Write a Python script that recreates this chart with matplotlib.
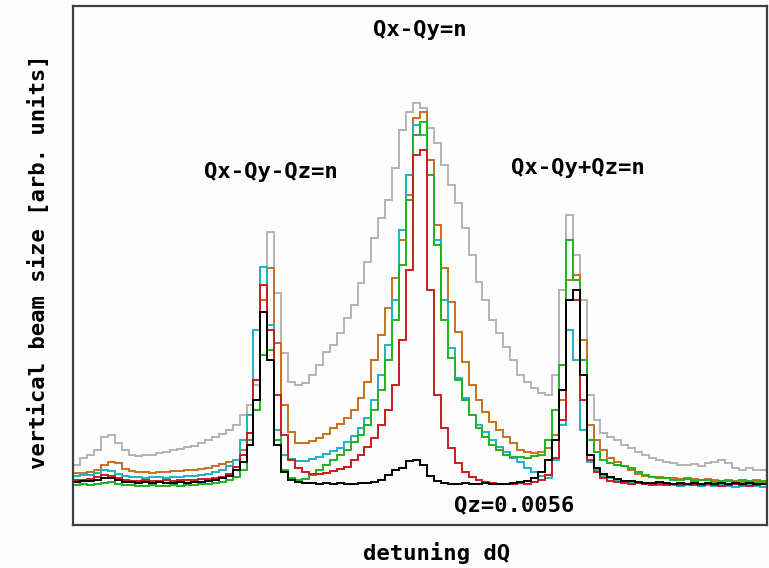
import numpy as np
import matplotlib
matplotlib.use("Agg")
import matplotlib.pyplot as plt

# detuning bins (arbitrary units), 100 bins across the scan
n_bins = 100
edges = np.arange(n_bins + 1)

# vertical beam size per bin [arb. units]
gray = [60, 67, 70, 75, 88, 90, 82, 75, 70, 69,
        70, 70, 72, 73, 75, 76, 78, 79, 82, 85,
        88, 91, 95, 100, 110, 120, 140, 225, 293, 232,
        172, 143, 140, 142, 150, 160, 173, 180, 192, 207,
        220, 242, 263, 287, 307, 325, 357, 395, 413, 422,
        417, 397, 382, 360, 340, 322, 297, 270, 243, 225,
        205, 192, 178, 165, 150, 143, 137, 132, 130, 150,
        235, 310, 270, 225, 130, 105, 92, 88, 85, 80,
        77, 73, 70, 67, 65, 63, 62, 60, 60, 61,
        59, 62, 63, 65, 62, 57, 55, 57, 55, 55]

orange = [52, 52, 53, 55, 60, 63, 62, 56, 54, 53,
          53, 52, 53, 53, 54, 54, 55, 55, 56, 57,
          59, 61, 63, 65, 75, 92, 125, 225, 257, 182,
          120, 93, 82, 82, 84, 87, 91, 97, 101, 107,
          115, 127, 143, 165, 190, 217, 247, 285, 330, 407,
          413, 365, 300, 257, 223, 193, 163, 140, 125, 113,
          103, 95, 88, 82, 75, 73, 72, 73, 77, 90,
          125, 245, 250, 185, 100, 85, 75, 67, 63, 59,
          55, 51, 49, 48, 48, 47, 47, 46, 47, 46,
          45, 46, 45, 44, 45, 44, 43, 44, 45, 43]

cyan = [49, 50, 50, 52, 55, 54, 51, 49, 48, 48,
        47, 48, 48, 47, 48, 48, 49, 49, 50, 51,
        53, 55, 59, 65, 85, 110, 195, 258, 200, 95,
        70, 66, 64, 64, 66, 68, 71, 74, 77, 83,
        89, 97, 107, 125, 150, 180, 225, 295, 350, 400,
        390, 350, 285, 225, 177, 147, 127, 110, 100, 93,
        85, 78, 73, 67, 63, 57, 53, 49, 47, 65,
        100, 195, 165, 95, 63, 55, 49, 47, 45, 44,
        43, 42, 41, 41, 40, 41, 40, 39, 40, 41,
        39, 40, 39, 40, 39, 38, 39, 40, 39, 38]

green = [40, 41, 40, 41, 42, 43, 41, 40, 40, 39,
         39, 40, 39, 39, 40, 39, 40, 40, 41, 41,
         42, 43, 45, 48, 55, 85, 115, 170, 175, 85,
         55, 47, 45, 46, 50, 55, 60, 65, 70, 75,
         83, 90, 100, 115, 135, 165, 205, 260, 325, 390,
         403, 350, 280, 205, 167, 145, 125, 110, 97, 88,
         80, 75, 70, 68, 68, 67, 69, 70, 85, 115,
         160, 285, 245, 165, 85, 73, 65, 62, 60, 59,
         57, 53, 50, 48, 47, 47, 45, 45, 46, 44,
         45, 45, 43, 44, 44, 43, 45, 44, 43, 44]

red = [45, 45, 46, 48, 50, 49, 47, 45, 44, 44,
       45, 44, 44, 45, 44, 45, 45, 45, 46, 46,
       47, 48, 51, 58, 70, 92, 145, 240, 195, 130,
       90, 65, 57, 53, 51, 51, 52, 54, 56, 58,
       65, 70, 78, 87, 100, 115, 140, 185, 255, 370,
       375, 235, 130, 97, 77, 62, 53, 48, 45, 43,
       42, 41, 41, 41, 42, 41, 43, 45, 50, 67,
       105, 225, 225, 125, 65, 53, 47, 44, 43, 42,
       41, 42, 41, 40, 41, 40, 41, 40, 41, 40,
       40, 41, 40, 39, 40, 41, 40, 39, 40, 41]

black = [43, 44, 44, 45, 47, 47, 45, 43, 43, 42,
         43, 42, 43, 42, 42, 43, 42, 43, 43, 44,
         45, 47, 49, 55, 63, 80, 125, 213, 165, 80,
         53, 45, 43, 42, 42, 41, 42, 41, 42, 41,
         41, 42, 42, 43, 45, 50, 55, 57, 64, 65,
         60, 49, 44, 42, 41, 41, 42, 41, 41, 42,
         41, 41, 41, 42, 43, 44, 47, 53, 65, 85,
         135, 225, 235, 150, 70, 57, 51, 48, 46, 44,
         44, 43, 42, 42, 43, 42, 41, 42, 41, 42,
         41, 42, 41, 42, 41, 42, 41, 42, 41, 41]

series = [
    (gray, "#b4b4b4"),
    (orange, "#c8701e"),
    (cyan, "#1eb4c4"),
    (green, "#1eb41e"),
    (red, "#c81e1e"),
    (black, "#000000"),
]

font = dict(family="DejaVu Sans Mono", weight="bold", size=16)

fig = plt.figure(figsize=(7.69, 5.68), dpi=100)
fig.patch.set_facecolor("#fdfdfd")
ax = fig.add_axes([73 / 769, 43 / 568, 694 / 769, 519 / 568])
ax.set_facecolor("#fdfdfd")

for vals, col in series:
    ax.stairs(vals, edges, color=col, linewidth=1.4)

ax.set_xlim(0, n_bins)
ax.set_ylim(0, 519)
ax.set_xticks([])
ax.set_yticks([])
for s in ax.spines.values():
    s.set_color("#404040")
    s.set_linewidth(1.6)

ax.text(50.0, 495, "Qx-Qy=n", ha="center", va="center", **font)
ax.text(28.5, 353, "Qx-Qy-Qz=n", ha="center", va="center", **font)
ax.text(72.8, 357, "Qx-Qy+Qz=n", ha="center", va="center", **font)
ax.text(63.5, 20, "Qz=0.0056", ha="center", va="center", **font)

fig.text(437 / 769, 1 - 553 / 568, "detuning dQ", ha="center", va="center", **font)
fig.text(38 / 769, 1 - 262 / 568, "vertical beam size [arb. units]",
         ha="center", va="center", rotation=90, **font)

fig.savefig("out.png", dpi=100, facecolor=fig.get_facecolor())
